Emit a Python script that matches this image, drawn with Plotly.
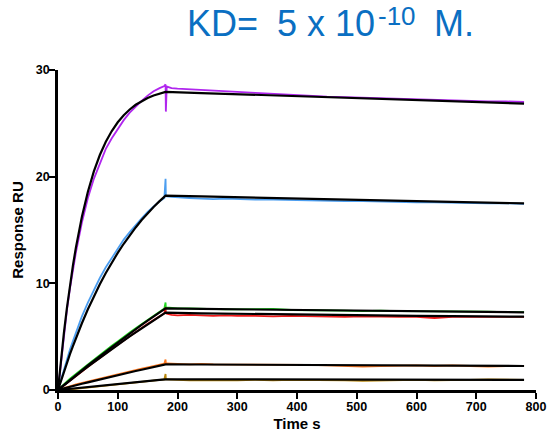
import plotly.graph_objects as go

# ---- fit (black) curves: time points and values ----
t_fit = [0, 5, 10, 15, 20, 25, 30, 40, 50, 60, 70, 80, 90, 100, 110, 120, 130, 140,
         150, 160, 170, 180, 240, 300, 360, 420, 480, 540, 600, 660, 720, 780]

fit_purple = [0, 2.85, 5.42, 7.73, 9.81, 11.68, 13.37, 16.25, 18.59, 20.49, 22.03, 23.27,
              24.28, 25.10, 25.76, 26.30, 26.74, 27.09, 27.37, 27.61, 27.79, 27.95,
              27.84, 27.73, 27.62, 27.51, 27.40, 27.29, 27.18, 27.07, 26.96, 26.85]
fit_blue = [0, 0.88, 1.74, 2.56, 3.36, 4.12, 4.86, 6.26, 7.57, 8.78, 9.91, 10.97,
            11.95, 12.86, 13.71, 14.50, 15.24, 15.93, 16.57, 17.16, 17.71, 18.22,
            18.15, 18.08, 18.00, 17.93, 17.86, 17.79, 17.72, 17.64, 17.57, 17.50]
fit_green = [0, 0.24, 0.48, 0.72, 0.95, 1.18, 1.41, 1.85, 2.30, 2.75, 3.18, 3.60,
             4.03, 4.45, 4.88, 5.30, 5.70, 6.10, 6.50, 6.90, 7.28, 7.65,
             7.60, 7.56, 7.52, 7.48, 7.44, 7.41, 7.38, 7.35, 7.31, 7.28]
fit_red = [0, 0.23, 0.46, 0.68, 0.90, 1.12, 1.34, 1.76, 2.19, 2.61, 3.02, 3.42,
           3.83, 4.22, 4.63, 5.03, 5.41, 5.79, 6.17, 6.54, 6.90, 7.25,
           7.19, 7.14, 7.09, 7.04, 7.00, 6.97, 6.94, 6.92, 6.89, 6.87]
fit_orange = [0, 0.08, 0.15, 0.23, 0.30, 0.37, 0.44, 0.58, 0.72, 0.86, 1.00, 1.13,
              1.26, 1.39, 1.52, 1.65, 1.78, 1.90, 2.03, 2.15, 2.28, 2.40,
              2.39, 2.38, 2.36, 2.35, 2.33, 2.31, 2.30, 2.28, 2.27, 2.25]
fit_brown = [0, 0.03, 0.06, 0.09, 0.12, 0.15, 0.18, 0.24, 0.30, 0.36, 0.42, 0.47,
             0.53, 0.58, 0.64, 0.69, 0.75, 0.80, 0.85, 0.90, 0.95, 1.00,
             1.00, 0.99, 0.99, 0.98, 0.98, 0.97, 0.97, 0.96, 0.96, 0.95]

# ---- measured (coloured) sensorgrams ----
t_data = [0, 5, 10, 15, 20, 25, 30, 40, 50, 60, 70, 80, 90, 100, 110, 120, 130, 140,
          150, 160, 170, 178, 180, 180.5, 182, 190, 200, 220, 240, 260, 280, 300,
          330, 360, 390, 420, 450, 480, 510, 540, 570, 600, 630, 660, 690, 720, 750, 780]

data_purple = [0, 2.7, 5.2, 7.5, 9.5, 11.3, 12.9, 15.7, 18.0, 19.8, 21.3, 22.6, 23.6,
               24.5, 25.3, 26.0, 26.6, 27.1, 27.6, 28.0, 28.3, 28.5, 28.65, 26.1, 28.45,
               28.3, 28.25, 28.2, 28.1, 28.05, 28.0, 27.95, 27.85, 27.75, 27.7, 27.6,
               27.5, 27.45, 27.4, 27.3, 27.25, 27.25, 27.15, 27.15, 27.1, 27.05, 27.05, 27.0]
data_blue = [0, 1.0, 1.95, 2.9, 3.8, 4.6, 5.4, 6.9, 8.2, 9.4, 10.5, 11.5, 12.4, 13.3,
             14.1, 14.8, 15.5, 16.1, 16.7, 17.2, 17.7, 18.0, 19.8, 18.2, 18.15, 18.1,
             18.05, 18.0, 17.95, 17.9, 17.95, 17.9, 17.85, 17.85, 17.8, 17.75, 17.75,
             17.7, 17.7, 17.65, 17.65, 17.6, 17.6, 17.55, 17.55, 17.5, 17.5, 17.45]
data_green = [0, 0.3, 0.55, 0.8, 1.05, 1.3, 1.5, 1.95, 2.4, 2.85, 3.3, 3.7, 4.15, 4.55,
              5.0, 5.4, 5.8, 6.2, 6.6, 7.0, 7.35, 7.65, 8.2, 7.7, 7.75, 7.7, 7.65, 7.65,
              7.6, 7.6, 7.55, 7.55, 7.55, 7.6, 7.5, 7.5, 7.45, 7.45, 7.4, 7.45, 7.4, 7.4,
              7.35, 7.35, 7.35, 7.35, 7.3, 7.3]
data_red = [0, 0.22, 0.45, 0.67, 0.9, 1.1, 1.32, 1.75, 2.2, 2.6, 3.0, 3.45, 3.85, 4.25,
            4.65, 5.05, 5.45, 5.8, 6.2, 6.55, 6.9, 7.2, 7.75, 7.2, 7.15, 7.05, 7.0, 7.05,
            7.0, 6.95, 7.0, 6.95, 6.95, 6.9, 6.95, 6.9, 6.9, 6.85, 6.9, 6.85, 6.85, 6.85,
            6.75, 6.85, 6.85, 6.85, 6.85, 6.85]
data_orange = [0, 0.1, 0.2, 0.28, 0.36, 0.44, 0.52, 0.66, 0.8, 0.95, 1.08, 1.22, 1.36,
               1.48, 1.62, 1.75, 1.88, 2.0, 2.12, 2.25, 2.38, 2.48, 2.85, 2.5, 2.5, 2.45,
               2.45, 2.4, 2.45, 2.4, 2.4, 2.4, 2.35, 2.4, 2.35, 2.35, 2.3, 2.25, 2.2,
               2.25, 2.3, 2.3, 2.25, 2.3, 2.25, 2.2, 2.25, 2.25]
data_brown = [0, 0.0, 0.02, 0.04, 0.06, 0.09, 0.12, 0.18, 0.25, 0.31, 0.38, 0.44, 0.5,
              0.56, 0.62, 0.68, 0.74, 0.8, 0.85, 0.9, 0.95, 1.0, 1.5, 1.0, 1.0, 0.95,
              0.95, 0.9, 0.9, 0.85, 0.9, 0.9, 0.95, 0.9, 0.95, 0.95, 0.9, 0.9, 0.85,
              0.9, 0.9, 0.95, 0.9, 0.9, 0.95, 1.0, 0.95, 0.95]

x_ticks = [0, 100, 200, 300, 400, 500, 600, 700, 800]
y_ticks = [0, 10, 20, 30]

series = [
    (data_purple, fit_purple, "#b026ee"),
    (data_blue, fit_blue, "#4c9ef0"),
    (data_green, fit_green, "#22d822"),
    (data_red, fit_red, "#ee1a1a"),
    (data_orange, fit_orange, "#ff7a22"),
    (data_brown, fit_brown, "#b8860b"),
]

fig = go.Figure()
for d, f, c in series:
    fig.add_trace(go.Scatter(x=t_data, y=d, mode="lines",
                             line=dict(color=c, width=1.8), hoverinfo="skip"))
for d, f, c in series:
    fig.add_trace(go.Scatter(x=t_fit, y=f, mode="lines",
                             line=dict(color="black", width=2.2), hoverinfo="skip"))

tick_font = dict(family="Liberation Sans, Arial, sans-serif", size=12.5, color="black")
title_font = dict(family="Liberation Sans, Arial, sans-serif", size=15, color="black")

L, R, T, B, W, H = 58, 12, 70, 50, 548, 440
fig.update_layout(
    width=W, height=H,
    margin=dict(l=L, r=R, t=T, b=B),
    paper_bgcolor="white", plot_bgcolor="white",
    showlegend=False,
    xaxis=dict(range=[0, 800], tickvals=x_ticks, ticktext=[f"<b>{v}</b>" for v in x_ticks],
               showgrid=False, zeroline=False, showline=True, linecolor="black",
               linewidth=2.5, ticks="outside", ticklen=6, tickwidth=2, tickcolor="black",
               tickfont=tick_font, automargin=False, ticklabelstandoff=-3,
               title=dict(text="<b>Time s</b>", font=title_font, standoff=6)),
    yaxis=dict(range=[0, 30], tickvals=y_ticks, ticktext=[f"<b>{v}</b>" for v in y_ticks],
               showgrid=False, zeroline=False, showline=True, linecolor="black",
               linewidth=2.5, ticks="outside", ticklen=6, tickwidth=2, tickcolor="black",
               tickfont=tick_font, automargin=False, ticklabelstandoff=-3,
               title=dict(text="<b>Response RU</b>", font=title_font, standoff=9)),
)

# title pieces: (text, centre x px, centre y px, font size)
pw, ph = W - L - R, H - T - B
title_parts = [
    ("KD=", 222, 23.5, 36),
    ("5 x 10", 326, 23.5, 36),
    ("-10", 397, 16, 26),
    ("M.", 454, 23.5, 36),
]
for txt, cx, cy, sz in title_parts:
    fig.add_annotation(
        text=txt, xref="paper", yref="paper",
        x=(cx - L) / pw, y=(H - B - cy) / ph, xanchor="center", yanchor="middle",
        showarrow=False,
        font=dict(family="Liberation Sans, Arial, sans-serif", size=sz, color="#0a6fc2"),
    )

fig.write_html("out.html", config={"displayModeBar": False},
               post_script="document.body.style.margin='0px';")
